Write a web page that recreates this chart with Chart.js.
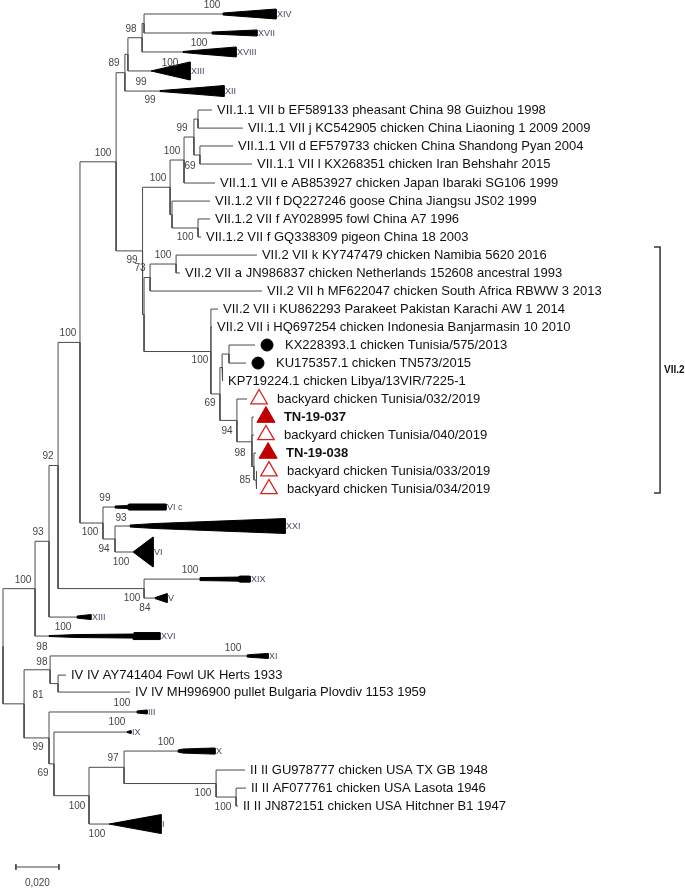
<!DOCTYPE html>
<html>
<head>
<meta charset="utf-8">
<script src="https://cdn.jsdelivr.net/npm/chart.js@4.4.1/dist/chart.umd.min.js"></script>
<style>
  html, body { margin: 0; padding: 0; background: #fff; }
  #tree { display: block; }
</style>
</head>
<body>
<canvas id="tree" width="685" height="888"></canvas>
<script>
// internal nodes: [id, parent, distance from root]
const internalNodes = [
  ['root', null, 0],
  ['nA', 'root', 0.0149], ['nB', 'nA', 0.0214], ['nC', 'nB', 0.0256], ['nD', 'nC', 0.0358],
  ['nF', 'nD', 0.0526], ['nI', 'nF', 0.0567], ['nK', 'nI', 0.0581], ['nL', 'nK', 0.0647],
  ['nM', 'nL', 0.0656], ['nJ', 'nF', 0.0649], ['nN', 'nJ', 0.0777], ['nN1', 'nN', 0.0842],
  ['nN11', 'nN1', 0.0888], ['nN111', 'nN11', 0.0907], ['nN112', 'nN11', 0.0916],
  ['nN2', 'nN', 0.0786], ['nN21', 'nN2', 0.0907], ['nO', 'nJ', 0.0656], ['nP', 'nO', 0.0684],
  ['nR', 'nP', 0.0805], ['nQ', 'nO', 0.0967], ['nX', 'nQ', 0.1009], ['nW', 'nX', 0.1019],
  ['nV', 'nW', 0.1051], ['nY', 'nX', 0.1088], ['nZ', 'nY', 0.1158], ['nAA', 'nZ', 0.1167],
  ['nAB', 'nAA', 0.1177], ['nG', 'nD', 0.0465], ['nH', 'nG', 0.0521], ['nE', 'nC', 0.0656],
  ['nLA', 'root', 0.0098], ['nLB', 'nLA', 0.0219], ['nIV', 'nLB', 0.0256], ['nLC', 'nLA', 0.0214],
  ['nLD', 'nLC', 0.0237], ['nLE', 'nLD', 0.0400], ['nLF', 'nLE', 0.0563], ['nLG', 'nLF', 0.0991],
  ['nLH', 'nLG', 0.1084]
];

// taxa: [label, parent, tip distance, row, marker]
const taxa = [
  ['VII.1.1 VII b EF589133 pheasant China 98 Guizhou 1998', 'nN111', 0.0972, 5.21, ''],
  ['VII.1.1 VII j KC542905 chicken China Liaoning 1 2009 2009', 'nN111', 0.1116, 6.19, ''],
  ['VII.1.1 VII d EF579733 chicken China Shandong Pyan 2004', 'nN112', 0.1070, 7.16, ''],
  ['VII.1.1 VII l KX268351 chicken Iran Behshahr 2015', 'nN112', 0.1158, 8.14, ''],
  ['VII.1.1 VII e AB853927 chicken Japan Ibaraki SG106 1999', 'nN1', 0.0986, 9.17, ''],
  ['VII.1.2 VII f DQ227246 goose China Jiangsu JS02 1999', 'nN2', 0.0963, 10.15, ''],
  ['VII.1.2 VII f AY028995 fowl China A7 1996', 'nN21', 0.0963, 11.12, ''],
  ['VII.1.2 VII f GQ338309 pigeon China 18 2003', 'nN21', 0.0921, 12.10, ''],
  ['VII.2 VII k KY747479 chicken Namibia 5620 2016', 'nR', 0.1181, 13.08, ''],
  ['VII.2 VII a JN986837 chicken Netherlands 152608 ancestral 1993', 'nR', 0.0823, 14.05, ''],
  ['VII.2 VII h MF622047 chicken South Africa RBWW 3 2013', 'nP', 0.1205, 15.03, ''],
  ['VII.2 VII i KU862293 Parakeet Pakistan Karachi AW 1 2014', 'nQ', 0.1000, 16.01, ''],
  ['VII.2 VII i HQ697254 chicken Indonesia Banjarmasin 10 2010', 'nQ', 0.0972, 16.98, ''],
  ['KX228393.1 chicken Tunisia/575/2013', 'nV', 0.1172, 17.96, 'dot'],
  ['KU175357.1 chicken TN573/2015', 'nV', 0.1130, 18.94, 'dot'],
  ['KP719224.1 chicken Libya/13VIR/7225-1', 'nW', 0.1023, 19.91, ''],
  ['backyard chicken Tunisia/032/2019', 'nY', 0.1135, 20.89, 'open'],
  ['TN-19-037', 'nZ', 0.1167, 21.87, 'solid'],
  ['backyard chicken Tunisia/040/2019', 'nZ', 0.1167, 22.84, 'open'],
  ['TN-19-038', 'nAA', 0.1177, 23.82, 'solid'],
  ['backyard chicken Tunisia/033/2019', 'nAB', 0.1181, 24.80, 'open'],
  ['backyard chicken Tunisia/034/2019', 'nAB', 0.1181, 25.77, 'open'],
  ['IV IV AY741404 Fowl UK Herts 1933', 'nIV', 0.0293, 35.87, ''],
  ['IV IV MH996900 pullet Bulgaria Plovdiv 1153 1959', 'nIV', 0.0591, 36.79, ''],
  ['II II GU978777 chicken USA TX GB 1948', 'nLG', 0.1126, 41.02, ''],
  ['II II AF077761 chicken USA Lasota 1946', 'nLH', 0.1130, 42.00, ''],
  ['II II JN872151 chicken USA Hitchner B1 1947', 'nLH', 0.1093, 42.97, '']
];

// collapsed clades: [genotype, parent, row, profile distances, profile heights (rows)]
const collapsedClades = [
  ['XIV', 'nM', 0.00, [0.1023, 0.1270], [0.11, 0.54]],
  ['XVII', 'nM', 1.03, [0.0972, 0.1126, 0.1181], [0.11, 0.27, 0.33]],
  ['XVIII', 'nL', 2.06, [0.0837, 0.0916, 0.1084], [0.05, 0.22, 0.54]],
  ['XIII', 'nK', 3.09, [0.0688, 0.0870], [0, 0.98]],
  ['XII', 'nI', 4.18, [0.0730, 0.0916, 0.1028], [0.05, 0.38, 0.60]],
  ['VI c', 'nG', 26.75, [0.0521, 0.0577, 0.0586, 0.0758], [0.11, 0.16, 0.33, 0.33]],
  ['XXI', 'nH', 27.78, [0.0591, 0.0707, 0.1312], [0.11, 0.27, 0.81]],
  ['VI', 'nH', 29.19, [0.0605, 0.0698], [0, 1.63]],
  ['XIX', 'nE', 30.66, [0.0916, 0.1093, 0.1102, 0.1149], [0.16, 0.22, 0.33, 0.33]],
  ['V', 'nE', 31.69, [0.0707, 0.0763], [0.05, 0.49]],
  ['XIII', 'nB', 32.72, [0.0344, 0.0409], [0.11, 0.27]],
  ['XVI', 'nA', 33.75, [0.0214, 0.0344, 0.0605, 0.0609, 0.0730], [0.05, 0.16, 0.22, 0.38, 0.38]],
  ['XI', 'nLB', 34.83, [0.1135, 0.1158, 0.1233], [0.11, 0.16, 0.27]],
  ['III', 'nLC', 37.87, [0.0623, 0.0670], [0.11, 0.22]],
  ['IX', 'nLD', 38.96, [0.0577, 0.0595], [0.05, 0.16]],
  ['X', 'nLF', 39.99, [0.0814, 0.0837, 0.0977, 0.0986], [0.11, 0.22, 0.33, 0.33]],
  ['I', 'nLE', 43.95, [0.0493, 0.0735], [0, 1.03]]
];

// bootstrap values: [value, distance, row]
const bootstrap = [
  ['100', 0.0972, -0.49], ['98', 0.0595, 0.81], ['100', 0.0912, 1.57], ['89', 0.0516, 2.66],
  ['100', 0.0777, 2.66], ['99', 0.0642, 3.69], ['99', 0.0684, 4.67], ['99', 0.0833, 6.19],
  ['100', 0.0786, 7.43], ['100', 0.0465, 7.54], ['69', 0.0870, 8.25], ['100', 0.0721, 8.90],
  ['100', 0.0847, 12.10], ['99', 0.0600, 13.35], ['100', 0.0744, 13.08], ['73', 0.0637, 13.78],
  ['100', 0.0916, 18.77], ['69', 0.0963, 21.11], ['94', 0.1042, 22.63], ['98', 0.1102, 23.82],
  ['85', 0.1126, 25.28], ['100', 0.0302, 17.31], ['92', 0.0209, 23.98], ['99', 0.0474, 26.26],
  ['93', 0.0549, 27.35], ['100', 0.0405, 28.11], ['94', 0.0470, 29.03], ['100', 0.0549, 29.73],
  ['93', 0.0163, 28.11], ['100', 0.0870, 30.17], ['100', 0.0093, 30.71], ['100', 0.0600, 31.69],
  ['84', 0.0660, 32.23], ['100', 0.0279, 33.26], ['98', 0.0181, 34.35], ['100', 0.1070, 34.40],
  ['98', 0.0181, 35.16], ['81', 0.0163, 36.95], ['100', 0.0553, 37.38], ['100', 0.0530, 38.42],
  ['100', 0.0758, 39.50], ['99', 0.0163, 39.77], ['97', 0.0512, 40.37], ['69', 0.0186, 41.18],
  ['100', 0.0930, 42.27], ['100', 0.0344, 42.97], ['100', 0.1023, 43.03], ['100', 0.0437, 44.49]
];

// genotype bracket: [label, distance, first row, last row]
const bracket = ['VII.2', 0.3056, 12.64, 25.99];
// scale bar: [start distance, length, row]
const scaleBar = [0.0060, 0.020, 46.28];

const FONT = '"Liberation Sans", Arial, sans-serif';
const markerGap = 0.0056;
const tickLen = 0.0028;

// ---- build tree geometry ----
const nodes = {};
internalNodes.forEach(([id, parent, d]) => { nodes[id] = { x: d, parent, kids: [] }; });
internalNodes.forEach(([id, parent]) => { if (parent) nodes[parent].kids.push({ node: id }); });
taxa.forEach(t => nodes[t[1]].kids.push({ y: t[3] }));
collapsedClades.forEach(c => nodes[c[1]].kids.push({ y: c[2] }));

function nodeY(id) {
  const n = nodes[id];
  if (n.y === undefined) {
    const ys = n.kids.map(k => k.node ? nodeY(k.node) : k.y);
    n.y = (Math.min(...ys) + Math.max(...ys)) / 2;
  }
  return n.y;
}
internalNodes.forEach(([id]) => nodeY(id));

const branchPts = [];
function addBranch(parentId, x, y) {
  const p = nodes[parentId];
  branchPts.push({ x: p.x, y: p.y }, { x: p.x, y }, { x, y }, { x, y: null });
}
internalNodes.forEach(([id, parent]) => { if (parent) addBranch(parent, nodes[id].x, nodes[id].y); });
taxa.forEach(([, parent, tip, row]) => addBranch(parent, tip, row));
collapsedClades.forEach(([, parent, row, px]) => addBranch(parent, px[0], row));

const datasets = [{
  data: branchPts, borderColor: '#4a4a4a', borderWidth: 1, pointRadius: 0, spanGaps: false
}];

collapsedClades.forEach(([, , row, px, ph]) => {
  const top = px.map((x, i) => ({ x, y: row - ph[i] / 2 }));
  const bottom = px.map((x, i) => ({ x, y: row + ph[i] / 2 })).reverse();
  datasets.push({
    data: [...top, ...bottom, top[0]], borderColor: '#000', borderWidth: 1,
    backgroundColor: '#000', fill: 'shape', pointRadius: 0
  });
});

function markerSet(kind, style) {
  return Object.assign({
    data: taxa.filter(t => t[4] === kind).map(t => ({ x: t[2] + markerGap, y: t[3] })),
    showLine: false
  }, style);
}
datasets.push(markerSet('dot', { pointStyle: 'circle', pointRadius: 6, backgroundColor: '#000', borderColor: '#000' }));
datasets.push(markerSet('solid', { pointStyle: 'triangle', pointRadius: 10.5, backgroundColor: '#c00000', borderColor: '#c00000', borderWidth: 1 }));
datasets.push(markerSet('open', { pointStyle: 'triangle', pointRadius: 9.5, backgroundColor: '#fff', borderColor: '#d42020', borderWidth: 1.3 }));

const [bLabel, bx, bTop, bBot] = bracket;
datasets.push({
  data: [{ x: bx - tickLen, y: bTop }, { x: bx, y: bTop }, { x: bx, y: bBot }, { x: bx - tickLen, y: bBot }],
  borderColor: '#333', borderWidth: 1.5, pointRadius: 0
});

const [sx, sLen, sRow] = scaleBar;
datasets.push({
  data: [{ x: sx, y: sRow - 0.15 }, { x: sx, y: sRow + 0.15 }, { x: sx, y: null },
         { x: sx, y: sRow }, { x: sx + sLen, y: sRow }, { x: sx + sLen, y: null },
         { x: sx + sLen, y: sRow - 0.15 }, { x: sx + sLen, y: sRow + 0.15 }],
  borderColor: '#444', borderWidth: 1, pointRadius: 0, spanGaps: false
});

const treeText = {
  id: 'treeText',
  afterDatasetsDraw(chart) {
    const { ctx, scales: { x, y } } = chart;
    ctx.save();
    ctx.textBaseline = 'middle';

    taxa.forEach(([label, , tip, row, marker]) => {
      ctx.font = (marker === 'solid' ? 'bold ' : '') + '13px ' + FONT;
      ctx.fillStyle = '#111';
      ctx.textAlign = 'left';
      ctx.fillText(label, x.getPixelForValue(tip) + (marker ? 30 : 5), y.getPixelForValue(row));
    });

    ctx.font = '9px ' + FONT;
    ctx.fillStyle = '#4e4466';
    collapsedClades.forEach(([name, , row, px]) => {
      ctx.fillText(name, x.getPixelForValue(px[px.length - 1]) + 1, y.getPixelForValue(row) + 0.5);
    });

    ctx.font = '10px ' + FONT;
    ctx.fillStyle = '#444';
    ctx.textAlign = 'center';
    bootstrap.forEach(([v, d, row]) => ctx.fillText(v, x.getPixelForValue(d), y.getPixelForValue(row)));

    ctx.fillText(sLen.toFixed(3).replace('.', ','), x.getPixelForValue(sx + sLen / 2), y.getPixelForValue(sRow) + 16);

    ctx.font = 'bold 10px ' + FONT;
    ctx.fillStyle = '#111';
    ctx.textAlign = 'left';
    ctx.fillText(bLabel, x.getPixelForValue(bx) + 4, y.getPixelForValue((bTop + bBot) / 2));
    ctx.restore();
  }
};

new Chart(document.getElementById('tree'), {
  type: 'line',
  data: { datasets },
  options: {
    responsive: false,
    animation: false,
    devicePixelRatio: 1,
    events: [],
    layout: { padding: 0, autoPadding: false },
    plugins: { legend: { display: false }, tooltip: { enabled: false } },
    elements: { line: { tension: 0 } },
    scales: {
      x: { type: 'linear', min: -0.0014, max: 0.3172, display: false },
      y: { type: 'linear', reverse: true, min: -0.76, max: 47.42, display: false }
    }
  },
  plugins: [treeText]
});
</script>
</body>
</html>
